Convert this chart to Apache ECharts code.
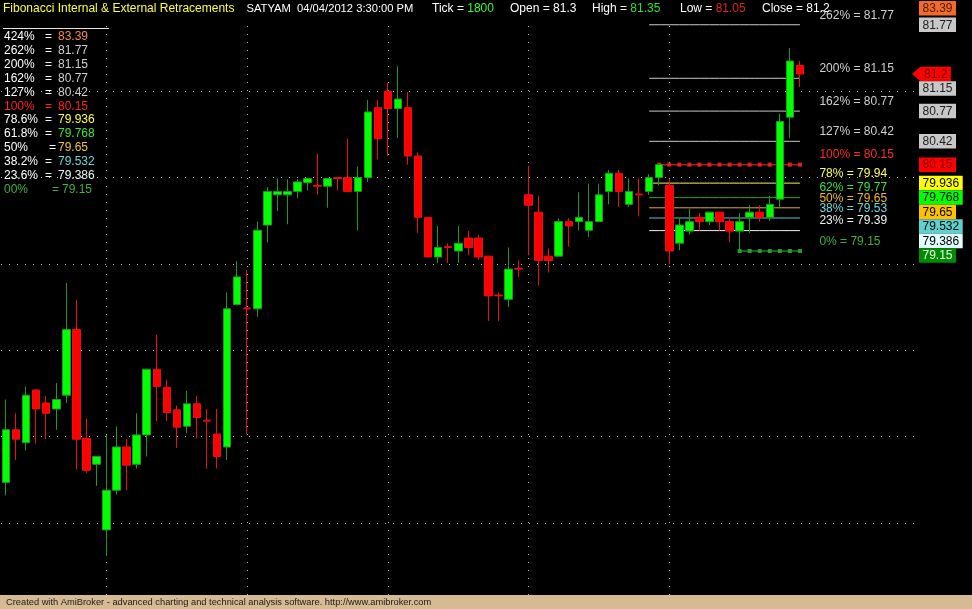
<!DOCTYPE html>
<html><head><meta charset="utf-8">
<script src="https://cdn.jsdelivr.net/npm/echarts@6/dist/echarts.min.js"></script>
<style>html,body{margin:0;padding:0;background:#000;}#c{width:972px;height:609px;}</style>
</head><body><div id="c"></div>
<script>
// ---- candle data (bar 0..79) ----
const opens  = [76.47,77.08,76.93,77.54,77.39,77.32,77.48,78.24,76.98,76.68,
                75.92,76.38,76.88,76.68,77.02,77.78,77.57,77.31,77.12,77.38,
                77.19,77.03,76.88,78.53,78.49,78.48,79.45,79.80,79.80,79.84,
                79.94,79.91,79.90,80.00,80.00,79.84,80.00,80.81,81.00,80.80,
                80.81,80.25,79.54,79.08,79.20,79.15,79.30,79.30,79.09,78.64,
                78.59,78.95,79.80,79.60,79.09,79.09,79.49,79.49,79.39,79.49,
                79.84,80.05,79.69,79.81,79.84,80.00,79.91,79.24,79.38,79.54,
                79.49,79.60,79.49,79.38,79.54,79.60,79.54,79.75,80.70,81.30];
const closes = [77.08,76.97,77.48,77.32,77.27,77.43,78.24,76.97,76.61,76.77,
                76.38,76.88,76.67,77.02,77.78,77.58,77.28,77.11,77.38,77.22,
                77.18,76.77,78.48,78.85,78.48,79.39,79.84,79.84,79.84,79.95,
                79.99,79.90,79.99,79.99,79.84,80.00,80.76,80.45,80.80,80.91,
                80.25,79.54,79.08,79.19,79.19,79.24,79.19,79.08,78.63,78.63,
                78.94,78.94,79.68,79.04,79.04,79.49,79.44,79.54,79.49,79.80,
                80.05,79.84,79.84,79.80,80.00,80.15,79.15,79.45,79.49,79.49,
                79.60,79.49,79.38,79.49,79.60,79.54,79.69,80.65,81.35,81.20];
const lows   = [76.32,76.73,76.84,76.92,76.97,77.08,77.39,76.62,76.58,76.43,
                75.62,76.33,76.38,76.63,76.77,77.18,77.18,76.87,77.04,76.98,
                76.63,76.63,76.73,78.52,77.03,78.39,79.25,79.61,79.46,79.76,
                79.85,79.80,79.65,79.85,79.83,79.39,79.95,80.21,80.25,80.46,
                80.15,79.36,79.08,79.01,79.01,79.01,79.10,79.05,78.34,78.34,
                78.50,78.85,79.10,78.75,78.90,79.09,79.20,79.39,79.31,79.49,
                79.69,79.66,79.66,79.55,79.80,79.91,79.00,79.16,79.34,79.39,
                79.45,79.39,79.25,79.15,79.36,79.49,79.50,79.66,80.46,81.05];
const highs  = [77.43,77.27,77.58,77.55,77.47,77.62,78.78,78.58,77.21,76.77,
                77.02,77.12,76.97,77.27,77.79,78.18,77.66,77.36,77.53,77.47,
                77.32,77.32,78.67,79.03,78.93,79.49,79.89,79.99,79.98,79.98,
                79.99,80.28,79.99,80.00,80.45,80.13,80.90,80.90,81.10,81.29,
                80.99,80.29,79.54,79.44,79.24,79.44,79.38,79.34,79.09,78.67,
                79.19,79.04,80.14,79.79,79.18,79.53,79.53,79.83,79.93,79.93,
                80.09,80.09,79.99,79.99,80.04,80.16,79.98,79.53,79.64,79.59,
                79.60,79.60,79.52,79.59,79.68,79.68,79.79,80.74,81.50,81.35];
const totalSlots = 91;                       // 80 bars + empty space on the right
const barLabels = Array.from({length: totalSlots}, (_, i) => String(i + 1));
const sessionStarts = [10, 24, 38, 52, 66];  // vertical dotted separators
const gridValues = [76, 77, 78, 79, 80, 81]; // horizontal dotted grid

// ---- Fibonacci levels ----
const fibPct  = ['424%','262%','200%','162%','127%','100%','78.6%','61.8%','50%','38.2%','23.6%','00%'];
const fibVal  = [83.39, 81.77, 81.15, 80.77, 80.42, 80.15, 79.936, 79.768, 79.65, 79.532, 79.386, 79.15];
const chartPct = ['262%','200%','162%','127%','100%','78%','62%','50%','38%','23%','0%'];
const chartVal = [81.77, 81.15, 80.77, 80.42, 80.15, 79.936, 79.768, 79.65, 79.532, 79.386, 79.15];
const chartStart = [64, 64, 64, 64, 65, 64, 64, 64, 64, 64, 73];
const chartEnd = 79;
const chartMarkers = [false,false,false,false,true,false,false,false,false,false,true];
const chartLineColor = ['#c8c8c8','#c8c8c8','#c8c8c8','#c8c8c8','#a81c1c','#f4f47a','#2fa02f','#e2b030','#5cc4c4','#f0f0f0','#1f7f1f'];
const chartMarkColor = ['','','','','#e02020','','','','','','#2a9a2a'];
const chartLabelColor = ['#d0d0d0','#d0d0d0','#d0d0d0','#d0d0d0','#ff2a2a','#ffff60','#40e040','#f0b830','#70d8d8','#f0f0f0','#40b040'];

const leftPctColor = ['#fff','#fff','#fff','#fff','#fff','#ff2020','#fff','#fff','#fff','#fff','#fff','#40b040'];
const leftValColor = ['#f08a50','#d0d0d0','#d0d0d0','#d0d0d0','#d0d0d0','#ff2020','#ffff40','#40e040','#f0c040','#70d8d8','#e8f4f4','#40b040'];

const tagBg   = ['#f26b2c','#c8c8c8','#c8c8c8','#c8c8c8','#c8c8c8','#ff0000','#ffff00','#00ff00','#ffc000','#5fd0d0','#e0ffff','#008c00'];
const tagFg   = ['#4a1a00','#202020','#202020','#202020','#202020','#7a0000','#000000','#000000','#000000','#000000','#000000','#e8ffe8'];

// ---- header ----
const ticker = 'SATYAM  04/04/2012 3:30:00 PM';
const tickVal = '1800';

const FONT = '12px "Liberation Sans", Arial, sans-serif';
const chart = echarts.init(document.getElementById('c'), null, {renderer: 'canvas'});

const candleData = opens.map((o, i) => [o, closes[i], lows[i], highs[i]]);

const fibSeries = chartVal.map((v, k) => ({
  type: 'line',
  z: 2,
  data: barLabels.map((_, i) => (i >= chartStart[k] && i <= chartEnd) ? v : '-'),
  showSymbol: chartMarkers[k],
  showAllSymbol: true,
  symbol: 'rect',
  symbolSize: 4,
  itemStyle: {color: chartMarkers[k] ? chartMarkColor[k] : chartLineColor[k]},
  lineStyle: {color: chartLineColor[k], width: chartMarkers[k] ? 1.5 : 1},
  silent: true,
  animation: false
}));

const dotted = {color: '#b4b4b4', width: 1, type: [1, 7]};

chart.setOption({
  backgroundColor: '#000000',
  animation: false,
  grid: {left: 1, top: 20, width: 914.5, height: 575},
  xAxis: {
    type: 'category', data: barLabels, boundaryGap: true,
    axisLine: {show: false}, axisTick: {show: false}, axisLabel: {show: false}, splitLine: {show: false}
  },
  yAxis: {
    type: 'value', min: 75.166, max: 81.825, position: 'right',
    axisLine: {show: false}, axisTick: {show: false}, axisLabel: {show: false}, splitLine: {show: false}
  },
  series: [
    {
      type: 'line', data: [], z: 1, silent: true,
      markLine: {
        silent: true, symbol: ['none', 'none'], z: 1, animation: false,
        label: {show: false}, lineStyle: dotted,
        data: gridValues.map(v => ({yAxis: v})).concat(sessionStarts.map(i => ({xAxis: barLabels[i]})))
      }
    },
    ...fibSeries,
    {
      type: 'candlestick', z: 3, data: candleData, barWidth: 8, silent: true,
      itemStyle: {color: '#00ff00', color0: '#ff0000', borderColor: '#1e9a1e', borderColor0: '#e81010', borderWidth: 1}
    }
  ]
});

// ---- text overlays placed through the chart's scales ----
const ctx = document.createElement('canvas').getContext('2d');
ctx.font = FONT;
const tw = s => ctx.measureText(s).width;
const yPx = v => chart.convertToPixel({yAxisIndex: 0}, v);
const xPx = i => chart.convertToPixel({xAxisIndex: 0}, barLabels[i]);

function txt(x, y, s, fill, font) {
  return {type: 'text', z: 100, silent: true, x: x, y: y,
    style: {text: s, fill: fill, font: font || FONT, textVerticalAlign: 'middle', verticalAlign: 'middle', textAlign: 'left', align: 'left'}};
}
const g = [];

// header
g.push(txt(3, 9, 'Fibonacci Internal & External Retracements', '#ffff40'));
g.push(txt(246.5, 9, ticker, '#ffffff', '11.2px "Liberation Sans", Arial, sans-serif'));
g.push(txt(432, 9, 'Tick = ', '#ffffff'));
g.push(txt(432 + tw('Tick = '), 9, tickVal, '#30ff30'));
g.push(txt(510, 9, 'Open = ' + opens[79], '#ffffff'));
g.push(txt(592, 9, 'High = ', '#ffffff'));
g.push(txt(592 + tw('High = '), 9, String(highs[79]), '#30e030'));
g.push(txt(680, 9, 'Low = ', '#ffffff'));
g.push(txt(680 + tw('Low = '), 9, String(lows[79]), '#e02020'));
g.push(txt(762, 9, 'Close = ' + closes[79], '#ffffff'));

// left list
g.push({type: 'line', z: 100, silent: true, shape: {x1: 3, y1: 28.5, x2: 109, y2: 28.5}, style: {stroke: '#e6e6e6', lineWidth: 1}});
fibPct.forEach((p, k) => {
  const y = 36.7 + k * 13.9;
  g.push(txt(4, y, p, leftPctColor[k]));
  g.push(txt(k === 8 ? 49 : (k === 11 ? 52 : 45), y, '=', leftPctColor[k]));
  g.push(txt(k === 11 ? 62 : 58, y, String(fibVal[k]), leftValColor[k]));
});

// labels on the chart lines
chartVal.forEach((v, k) => {
  g.push(txt(xPx(chartEnd) + 19.5, yPx(v) - 9.5, chartPct[k] + ' = ' + v.toFixed(2), chartLabelColor[k]));
});

// right price tags (stacked downward so they do not overlap)
const tags = fibVal.map((v, k) => ({v: v, s: String(v), bg: tagBg[k], fg: tagFg[k], arrow: false}));
tags.push({v: closes[79], s: String(closes[79]), bg: '#ff0000', fg: '#700000', arrow: true});
tags.sort((a, b) => b.v - a.v);
const TAG_H = 14.5;
let prevBottom = 1;
tags.forEach(t => {
  const top = Math.max(yPx(t.v) - TAG_H / 2, prevBottom);
  prevBottom = top + TAG_H;
  const left = t.arrow ? 920.5 : 919;
  const w = tw(t.s) + 7;
  if (t.arrow) {
    g.push({type: 'polygon', z: 99, silent: true,
      shape: {points: [[912, top + TAG_H / 2], [left, top], [left + w, top], [left + w, top + TAG_H], [left, top + TAG_H]]},
      style: {fill: t.bg}});
  } else {
    g.push({type: 'rect', z: 99, silent: true, shape: {x: left, y: top, width: w, height: TAG_H}, style: {fill: t.bg}});
  }
  g.push(txt(left + 3.5, top + TAG_H / 2 + 0.5, t.s, t.fg));
});

// footer bar
g.push({type: 'rect', z: 99, silent: true, shape: {x: 0, y: 595, width: 972, height: 14}, style: {fill: '#d6ba92'}});
g.push(txt(6, 602.5, 'Created with AmiBroker - advanced charting and technical analysis software. http://www.amibroker.com', '#1a1a1a',
  '9.3px "Liberation Sans", Arial, sans-serif'));

chart.setOption({graphic: {elements: g}});
</script>
</body></html>
